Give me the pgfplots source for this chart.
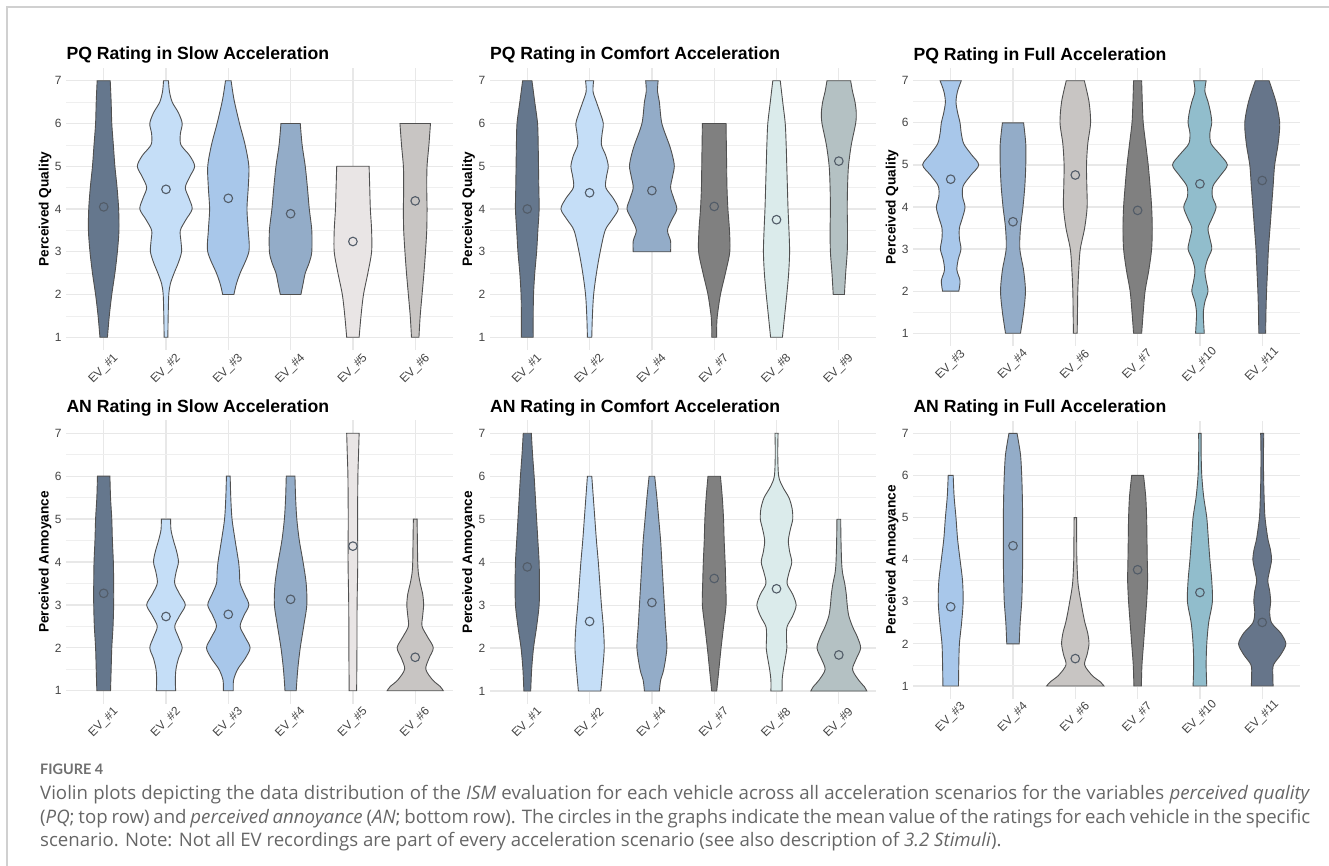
\documentclass[border=0pt]{standalone}
\usepackage{fontspec}
\setmainfont{Liberation Sans}
\newfontfamily\capfont{Open Sans}
\newfontfamily\figfont{Lato}
\usepackage{pgfplots}
\pgfplotsset{compat=1.18}
\usepackage{pgfplotstable}
\usepgfplotslibrary{fillbetween}

\definecolor{cA}{HTML}{65778D}
\definecolor{cB}{HTML}{C5DEF7}
\definecolor{cC}{HTML}{A8C7EA}
\definecolor{cD}{HTML}{93ACC8}
\definecolor{cE}{HTML}{E9E5E5}
\definecolor{cF}{HTML}{C8C5C3}
\definecolor{cG}{HTML}{808080}
\definecolor{cH}{HTML}{DBEBEB}
\definecolor{cI}{HTML}{B4C1C3}
\definecolor{cJ}{HTML}{91BDCC}
\definecolor{cK}{HTML}{66758A}
\definecolor{vline}{HTML}{505050}
\definecolor{mcol}{HTML}{525C68}
\definecolor{gridc}{HTML}{E8E8E8}
\definecolor{tickc}{HTML}{444444}
\definecolor{capc}{HTML}{666666}
\definecolor{figc}{HTML}{707070}
\definecolor{framec}{HTML}{D0D0D0}

% ---------- PQ Slow ----------
\pgfplotstableread[row sep=\\]{y w\\ 1 .06\\ 1.5 .09\\ 2 .13\\ 2.5 .18\\ 3 .22\\ 3.5 .245\\ 4 .24\\ 4.5 .215\\ 5 .18\\ 5.5 .155\\ 6 .13\\ 6.5 .12\\ 7 .105\\}\Aa
\pgfplotstableread[row sep=\\]{y w\\ 1 .03\\ 1.5 .035\\ 2 .045\\ 2.25 .07\\ 2.5 .13\\ 2.75 .2\\ 3 .25\\ 3.25 .24\\ 3.5 .23\\ 3.75 .32\\ 4 .42\\ 4.25 .37\\ 4.5 .31\\ 4.75 .38\\ 5 .46\\ 5.25 .38\\ 5.5 .24\\ 5.75 .23\\ 6 .26\\ 6.25 .2\\ 6.5 .1\\ 6.75 .055\\ 7 .04\\}\Ab
\pgfplotstableread[row sep=\\]{y w\\ 2 .09\\ 2.25 .13\\ 2.5 .19\\ 3 .33\\ 3.5 .32\\ 4 .3\\ 4.5 .32\\ 5 .33\\ 5.5 .27\\ 6 .18\\ 6.5 .1\\ 6.75 .07\\ 7 .045\\}\Ac
\pgfplotstableread[row sep=\\]{y w\\ 2 .165\\ 2.25 .2\\ 2.5 .235\\ 2.75 .3\\ 3 .34\\ 3.5 .34\\ 4 .3\\ 4.5 .27\\ 5 .235\\ 5.5 .185\\ 6 .155\\}\Ad
\pgfplotstableread[row sep=\\]{y w\\ 1 .1\\ 1.5 .13\\ 2 .17\\ 2.5 .24\\ 3 .3\\ 3.5 .3\\ 4 .28\\ 4.5 .27\\ 5 .26\\}\Ae
\pgfplotstableread[row sep=\\]{y w\\ 1 .06\\ 1.5 .08\\ 2 .11\\ 2.5 .14\\ 3 .165\\ 3.5 .185\\ 4 .19\\ 4.5 .185\\ 5 .19\\ 5.5 .22\\ 6 .245\\}\Af
% ---------- PQ Comfort ----------
\pgfplotstableread[row sep=\\]{y w\\ 1 .095\\ 1.5 .095\\ 2 .1\\ 2.5 .12\\ 3 .15\\ 3.5 .17\\ 4 .19\\ 4.5 .185\\ 5 .18\\ 5.5 .175\\ 6 .165\\ 6.5 .12\\ 7 .075\\}\Ba
\pgfplotstableread[row sep=\\]{y w\\ 1 .035\\ 1.5 .045\\ 2 .065\\ 2.5 .11\\ 3 .17\\ 3.5 .25\\ 3.75 .36\\ 4 .46\\ 4.25 .38\\ 4.5 .26\\ 4.75 .27\\ 5 .3\\ 5.25 .26\\ 5.5 .19\\ 5.75 .2\\ 6 .22\\ 6.25 .17\\ 6.5 .11\\ 6.75 .055\\ 7 .065\\}\Bb
\pgfplotstableread[row sep=\\]{y w\\ 3 .3\\ 3.25 .3\\ 3.5 .25\\ 3.75 .32\\ 4 .4\\ 4.25 .35\\ 4.5 .3\\ 4.75 .33\\ 5 .36\\ 5.25 .33\\ 5.5 .28\\ 6 .16\\ 6.5 .12\\ 6.75 .09\\ 7 .1\\}\Bc
\pgfplotstableread[row sep=\\]{y w\\ 1 .04\\ 1.25 .04\\ 1.5 .05\\ 2 .1\\ 2.5 .18\\ 3 .25\\ 3.5 .245\\ 4 .22\\ 4.5 .205\\ 5 .2\\ 5.5 .195\\ 6 .19\\}\Bd
\pgfplotstableread[row sep=\\]{y w\\ 1 .095\\ 1.5 .13\\ 2 .165\\ 2.5 .195\\ 3 .21\\ 3.5 .2\\ 4 .185\\ 4.5 .175\\ 5 .165\\ 5.5 .155\\ 6 .14\\ 6.5 .1\\ 7 .06\\}\Be
\pgfplotstableread[row sep=\\]{y w\\ 2 .09\\ 2.5 .11\\ 3 .135\\ 3.5 .14\\ 4 .135\\ 4.5 .14\\ 5 .155\\ 5.5 .2\\ 6 .27\\ 6.25 .28\\ 6.5 .26\\ 6.75 .22\\ 7 .19\\}\Bf
% ---------- PQ Full ----------
\pgfplotstableread[row sep=\\]{y w\\ 2 .13\\ 2.25 .15\\ 2.5 .1\\ 2.75 .12\\ 3 .165\\ 3.25 .14\\ 3.5 .14\\ 3.75 .19\\ 4 .23\\ 4.25 .19\\ 4.5 .2\\ 4.75 .32\\ 5 .45\\ 5.25 .33\\ 5.5 .21\\ 5.75 .17\\ 6 .15\\ 6.25 .11\\ 6.5 .085\\ 6.75 .11\\ 7 .17\\}\Ca
\pgfplotstableread[row sep=\\]{y w\\ 1 .12\\ 1.5 .17\\ 2 .2\\ 2.5 .17\\ 3 .11\\ 3.5 .12\\ 4 .16\\ 4.5 .19\\ 5 .205\\ 5.5 .205\\ 6 .17\\}\Cb
\pgfplotstableread[row sep=\\]{y w\\ 1 .03\\ 1.5 .035\\ 2 .04\\ 2.5 .055\\ 3 .08\\ 3.5 .15\\ 4 .19\\ 4.5 .185\\ 5 .18\\ 5.5 .2\\ 6 .245\\ 6.5 .22\\ 7 .145\\}\Cc
\pgfplotstableread[row sep=\\]{y w\\ 1 .065\\ 1.5 .09\\ 2 .12\\ 2.5 .18\\ 3 .225\\ 3.5 .235\\ 4 .225\\ 4.5 .2\\ 5 .17\\ 5.5 .13\\ 6 .09\\ 6.5 .075\\ 7 .065\\}\Cd
\pgfplotstableread[row sep=\\]{y w\\ 1 .07\\ 1.25 .06\\ 1.5 .055\\ 1.75 .08\\ 2 .13\\ 2.25 .1\\ 2.5 .08\\ 2.75 .12\\ 3 .19\\ 3.25 .16\\ 3.5 .13\\ 3.75 .2\\ 4 .26\\ 4.25 .2\\ 4.5 .21\\ 4.75 .33\\ 5 .44\\ 5.25 .32\\ 5.5 .18\\ 5.75 .16\\ 6 .19\\ 6.25 .17\\ 6.5 .13\\ 6.75 .08\\ 7 .1\\}\Ce
\pgfplotstableread[row sep=\\]{y w\\ 1 .055\\ 1.5 .06\\ 2 .07\\ 2.5 .085\\ 3 .1\\ 3.5 .125\\ 4 .15\\ 4.5 .175\\ 5 .2\\ 5.5 .255\\ 6 .28\\ 6.5 .22\\ 7 .11\\}\Cf
% ---------- AN Slow ----------
\pgfplotstableread[row sep=\\]{y w\\ 1 .11\\ 1.5 .12\\ 2 .13\\ 2.5 .15\\ 3 .16\\ 3.5 .16\\ 4 .155\\ 4.5 .14\\ 5 .13\\ 5.5 .11\\ 6 .1\\}\Da
\pgfplotstableread[row sep=\\]{y w\\ 1 .155\\ 1.25 .15\\ 1.5 .16\\ 1.75 .2\\ 2 .26\\ 2.25 .2\\ 2.5 .14\\ 2.75 .22\\ 3 .31\\ 3.25 .22\\ 3.5 .14\\ 3.75 .16\\ 4 .2\\ 4.25 .17\\ 4.5 .12\\ 4.75 .08\\ 5 .075\\}\Db
\pgfplotstableread[row sep=\\]{y w\\ 1 .08\\ 1.25 .085\\ 1.5 .15\\ 1.75 .27\\ 2 .35\\ 2.25 .27\\ 2.5 .19\\ 2.75 .25\\ 3 .33\\ 3.25 .26\\ 3.5 .19\\ 3.75 .18\\ 4 .165\\ 4.5 .11\\ 5 .06\\ 5.5 .04\\ 6 .03\\}\Dc
\pgfplotstableread[row sep=\\]{y w\\ 1 .09\\ 1.5 .115\\ 2 .155\\ 2.5 .21\\ 3 .26\\ 3.5 .25\\ 4 .2\\ 4.5 .14\\ 5 .1\\ 5.5 .08\\ 6 .07\\}\Dd
\pgfplotstableread[row sep=\\]{y w\\ 1 .06\\ 2 .065\\ 3 .067\\ 4 .078\\ 5 .075\\ 6 .08\\ 6.5 .09\\ 7 .1\\}\De
\pgfplotstableread[row sep=\\]{y w\\ 1 .45\\ 1.1 .4\\ 1.25 .28\\ 1.5 .17\\ 1.75 .22\\ 2 .29\\ 2.25 .2\\ 2.5 .11\\ 2.75 .12\\ 3 .135\\ 3.25 .12\\ 3.5 .08\\ 3.75 .05\\ 4 .04\\ 4.5 .035\\ 5 .03\\}\Df
% ---------- AN Comfort ----------
\pgfplotstableread[row sep=\\]{y w\\ 1 .055\\ 1.5 .07\\ 2 .1\\ 2.5 .15\\ 3 .19\\ 3.5 .195\\ 4 .19\\ 4.5 .17\\ 5 .15\\ 5.5 .13\\ 6 .11\\ 6.5 .085\\ 7 .065\\}\Ea
\pgfplotstableread[row sep=\\]{y w\\ 1 .18\\ 1.5 .21\\ 2 .235\\ 2.5 .22\\ 3 .19\\ 3.5 .165\\ 4 .14\\ 4.5 .11\\ 5 .085\\ 5.5 .06\\ 6 .035\\}\Eb
\pgfplotstableread[row sep=\\]{y w\\ 1 .12\\ 1.25 .14\\ 1.5 .19\\ 2 .24\\ 2.5 .22\\ 3 .2\\ 3.5 .18\\ 4 .16\\ 4.5 .14\\ 5 .11\\ 5.5 .08\\ 6 .045\\}\Ec
\pgfplotstableread[row sep=\\]{y w\\ 1 .04\\ 1.5 .075\\ 2 .11\\ 2.5 .15\\ 3 .19\\ 3.5 .185\\ 4 .175\\ 4.5 .16\\ 5 .15\\ 5.5 .13\\ 6 .1\\}\Ed
\pgfplotstableread[row sep=\\]{y w\\ 1 .09\\ 1.25 .09\\ 1.5 .11\\ 1.75 .14\\ 2 .165\\ 2.25 .16\\ 2.5 .17\\ 2.75 .26\\ 3 .315\\ 3.25 .26\\ 3.5 .17\\ 3.75 .2\\ 4 .245\\ 4.25 .21\\ 4.5 .19\\ 4.75 .22\\ 5 .26\\ 5.25 .25\\ 5.5 .2\\ 5.75 .1\\ 6 .035\\ 6.5 .02\\ 7 .025\\}\Ee
\pgfplotstableread[row sep=\\]{y w\\ 1 .45\\ 1.1 .41\\ 1.25 .32\\ 1.5 .22\\ 1.75 .28\\ 2 .35\\ 2.25 .3\\ 2.5 .22\\ 2.75 .16\\ 3 .135\\ 3.25 .12\\ 3.5 .095\\ 3.75 .06\\ 4 .045\\ 4.5 .035\\ 5 .03\\}\Ef
% ---------- AN Full ----------
\pgfplotstableread[row sep=\\]{y w\\ 1 .125\\ 1.5 .13\\ 2 .14\\ 2.5 .175\\ 3 .2\\ 3.5 .19\\ 4 .15\\ 4.5 .11\\ 5 .085\\ 5.5 .055\\ 6 .04\\}\Fa
\pgfplotstableread[row sep=\\]{y w\\ 2 .1\\ 2.5 .115\\ 3 .14\\ 3.5 .15\\ 4 .155\\ 4.5 .155\\ 5 .155\\ 5.5 .15\\ 6 .14\\ 6.5 .12\\ 7 .065\\}\Fb
\pgfplotstableread[row sep=\\]{y w\\ 1 .46\\ 1.1 .4\\ 1.25 .27\\ 1.5 .15\\ 1.75 .19\\ 2 .22\\ 2.25 .2\\ 2.5 .155\\ 2.75 .12\\ 3 .09\\ 3.25 .06\\ 3.5 .04\\ 4 .025\\ 4.5 .022\\ 5 .02\\}\Fc
\pgfplotstableread[row sep=\\]{y w\\ 1 .06\\ 1.5 .07\\ 2 .095\\ 2.5 .12\\ 3 .145\\ 3.5 .16\\ 4 .155\\ 4.5 .15\\ 5 .145\\ 5.5 .13\\ 6 .095\\}\Fd
\pgfplotstableread[row sep=\\]{y w\\ 1 .11\\ 1.5 .1\\ 2 .11\\ 2.5 .14\\ 3 .2\\ 3.5 .19\\ 4 .16\\ 4.5 .135\\ 5 .11\\ 5.5 .06\\ 6 .03\\ 6.5 .02\\ 7 .02\\}\Fe
\pgfplotstableread[row sep=\\]{y w\\ 1 .175\\ 1.25 .17\\ 1.5 .18\\ 1.75 .3\\ 2 .38\\ 2.25 .3\\ 2.5 .15\\ 2.75 .12\\ 3 .135\\ 3.25 .12\\ 3.5 .09\\ 3.75 .12\\ 4 .15\\ 4.25 .13\\ 4.5 .09\\ 5 .045\\ 5.5 .03\\ 6 .022\\ 6.5 .02\\ 7 .025\\}\Ff

\newcommand\violin[3]{%
  \addplot[draw=none, smooth, name path=vr#1] table[x expr={#1+\thisrow{w}}, y=y]{#2};
  \addplot[draw=none, smooth, name path=vl#1] table[x expr={#1-\thisrow{w}}, y=y]{#2};
  \addplot[fill=#3, draw=vline, line width=0.9bp] fill between[of=vr#1 and vl#1, reverse=true];
}

\pgfplotsset{
  violinax/.style={
    scale only axis, width=386.3bp, anchor=south west,
    xmin=-0.6, xmax=5.6, ymin=0.7, ymax=7.3,
    xtick={0,...,5}, ytick={1,...,7}, minor ytick={1.5,2.5,...,6.5},
    grid=both,
    major grid style={gridc, line width=1.2bp},
    minor grid style={gridc!70!white, line width=0.6bp},
    axis line style={draw=none},
    major tick length=0pt, minor tick length=0pt,
    /pgf/number format/assume math mode=true,
    tick label style={font=\fontsize{12}{14}\selectfont, text=tickc},
    xticklabel style={yshift=-19bp, rotate=45, anchor=center},
    yticklabel style={anchor=east, inner sep=0pt, xshift=-4.5bp},
    title style={at={(axis description cs:0,1)}, anchor=base west, yshift=2bp, inner sep=0pt,
      font=\fontsize{17.7}{20}\selectfont\bfseries},
    ylabel style={at={(axis description cs:-0.0552,0.5)}, anchor=center, inner sep=0pt,
      font=\fontsize{13.7}{16}\selectfont\bfseries},
  }
}

\begin{document}
\begin{tikzpicture}
\draw[framec, line width=1.5bp] (7bp,-866bp) -- (7bp,-7bp) -- (1329bp,-7bp);

% ===== PQ Slow =====
\begin{axis}[violinax, at={(66.3bp,-350.1bp)}, height=282.2bp,
  title={PQ Rating in Slow Acceleration}, ylabel={Perceived Quality},
  xticklabels={EV\_\#1,EV\_\#2,EV\_\#3,EV\_\#4,EV\_\#5,EV\_\#6}]
\violin{0}{\Aa}{cA}
\violin{1}{\Ab}{cB}
\violin{2}{\Ac}{cC}
\violin{3}{\Ad}{cD}
\violin{4}{\Ae}{cE}
\violin{5}{\Af}{cF}
\addplot[only marks, mark=o, mark size=4.3bp, mcol, line width=1.1bp] coordinates {(0,4.05) (1,4.46) (2,4.25) (3,3.89) (4,3.24) (5,4.19)};
\end{axis}

% ===== PQ Comfort =====
\begin{axis}[violinax, at={(489.9bp,-350.1bp)}, height=282.2bp,
  title={PQ Rating in Comfort Acceleration}, ylabel={Perceived Quality},
  xticklabels={EV\_\#1,EV\_\#2,EV\_\#4,EV\_\#7,EV\_\#8,EV\_\#9}]
\violin{0}{\Ba}{cA}
\violin{1}{\Bb}{cB}
\violin{2}{\Bc}{cD}
\violin{3}{\Bd}{cG}
\violin{4}{\Be}{cH}
\violin{5}{\Bf}{cI}
\addplot[only marks, mark=o, mark size=4.3bp, mcol, line width=1.1bp] coordinates {(0,4.0) (1,4.38) (2,4.43) (3,4.06) (4,3.75) (5,5.12)};
\end{axis}

% ===== PQ Full =====
\begin{axis}[violinax, at={(913.3bp,-345.9bp)}, height=277.8bp,
  title={PQ Rating in Full Acceleration}, ylabel={Perceived Quality},
  xticklabels={EV\_\#3,EV\_\#4,EV\_\#6,EV\_\#7,EV\_\#10,EV\_\#11}]
\violin{0}{\Ca}{cC}
\violin{1}{\Cb}{cD}
\violin{2}{\Cc}{cF}
\violin{3}{\Cd}{cG}
\violin{4}{\Ce}{cJ}
\violin{5}{\Cf}{cK}
\addplot[only marks, mark=o, mark size=4.3bp, mcol, line width=1.1bp] coordinates {(0,4.66) (1,3.65) (2,4.76) (3,3.92) (4,4.55) (5,4.63)};
\end{axis}

% ===== AN Slow =====
\begin{axis}[violinax, at={(66.3bp,-703.6bp)}, height=283.2bp,
  title={AN Rating in Slow Acceleration}, ylabel={Perceived Annoyance},
  xticklabels={EV\_\#1,EV\_\#2,EV\_\#3,EV\_\#4,EV\_\#5,EV\_\#6}]
\violin{0}{\Da}{cA}
\violin{1}{\Db}{cB}
\violin{2}{\Dc}{cC}
\violin{3}{\Dd}{cD}
\violin{4}{\De}{cE}
\violin{5}{\Df}{cF}
\addplot[only marks, mark=o, mark size=4.3bp, mcol, line width=1.1bp] coordinates {(0,3.27) (1,2.73) (2,2.78) (3,3.13) (4,4.37) (5,1.78)};
\end{axis}

% ===== AN Comfort =====
\begin{axis}[violinax, at={(489.9bp,-703.9bp)}, height=283.5bp,
  title={AN Rating in Comfort Acceleration}, ylabel={Perceived Annoyance},
  xticklabels={EV\_\#1,EV\_\#2,EV\_\#4,EV\_\#7,EV\_\#8,EV\_\#9}]
\violin{0}{\Ea}{cA}
\violin{1}{\Eb}{cB}
\violin{2}{\Ec}{cD}
\violin{3}{\Ed}{cG}
\violin{4}{\Ee}{cH}
\violin{5}{\Ef}{cI}
\addplot[only marks, mark=o, mark size=4.3bp, mcol, line width=1.1bp] coordinates {(0,3.89) (1,2.62) (2,3.06) (3,3.62) (4,3.38) (5,1.84)};
\end{axis}

% ===== AN Full =====
\begin{axis}[violinax, at={(913.3bp,-698.6bp)}, height=277.9bp,
  title={AN Rating in Full Acceleration}, ylabel={Perceived Annoayance},
  xticklabels={EV\_\#3,EV\_\#4,EV\_\#6,EV\_\#7,EV\_\#10,EV\_\#11}]
\violin{0}{\Fa}{cC}
\violin{1}{\Fb}{cD}
\violin{2}{\Fc}{cF}
\violin{3}{\Fd}{cG}
\violin{4}{\Fe}{cJ}
\violin{5}{\Ff}{cK}
\addplot[only marks, mark=o, mark size=4.3bp, mcol, line width=1.1bp] coordinates {(0,2.88) (1,4.33) (2,1.65) (3,3.76) (4,3.22) (5,2.51)};
\end{axis}

% ===== caption =====
\node[anchor=base west, inner sep=0pt, text=figc, font=\figfont\bfseries\fontsize{14.5}{16}\selectfont] at (40bp,-774.3bp) {FIGURE 4};
\node[anchor=base west, inner sep=0pt, text=capc, font=\capfont\fontsize{18.7}{21}\selectfont] at (40bp,-799bp)
  {\makebox[1270bp][s]{Violin plots depicting the data distribution of the \textit{ISM} evaluation for each vehicle across all acceleration scenarios for the variables \textit{perceived quality}}};
\node[anchor=base west, inner sep=0pt, text=capc, font=\capfont\fontsize{18.7}{21}\selectfont] at (40bp,-823.3bp)
  {\makebox[1270bp][s]{(\textit{PQ}; top row) and \textit{perceived annoyance} (\textit{AN}; bottom row). The circles in the graphs indicate the mean value of the ratings for each vehicle in the specific}};
\node[anchor=base west, inner sep=0pt, text=capc, font=\capfont\fontsize{18.7}{21}\selectfont] at (40bp,-846.7bp)
  {scenario. Note: Not all EV recordings are part of every acceleration scenario (see also description of \textit{3.2 Stimuli}).};

\pgfresetboundingbox
\path[use as bounding box] (0bp,0bp) rectangle (1329bp,-866bp);
\end{tikzpicture}
\end{document}
